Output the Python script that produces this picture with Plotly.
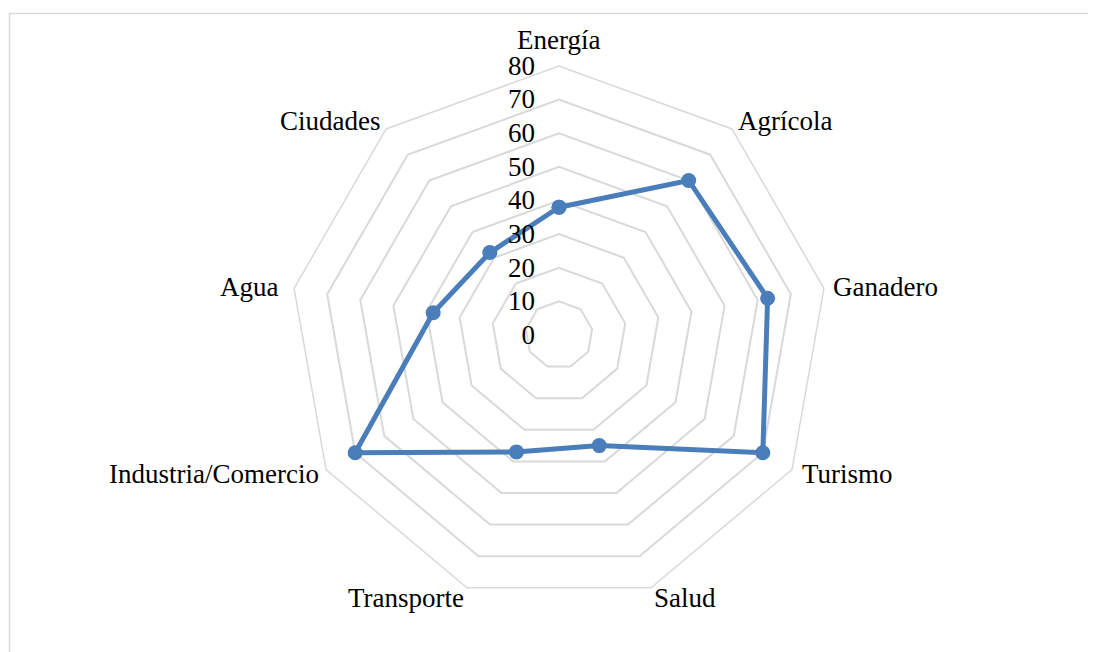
import plotly.graph_objects as go

categories = ["Energía", "Agrícola", "Ganadero", "Turismo", "Salud",
              "Transporte", "Industria/Comercio", "Agua", "Ciudades"]
values = [38, 60, 63, 70, 35, 37, 70, 38, 32]
radial_ticks = [0, 10, 20, 30, 40, 50, 60, 70, 80]

# category label placement (page px: centre x, baseline y)
label_pos = [(558.5, 49), (784.5, 130), (885.7, 296), (847, 483.3), (684.5, 606.7),
             (405.8, 606.7), (213.7, 483.3), (249, 295.7), (330, 130)]

W, H = 1096, 652
OFF = 8  # page body margin
cx, cy, R = 559 - OFF, 335 - OFF, 269
FS = 27

fig = go.Figure()
fig.add_trace(go.Scatterpolar(
    r=values + values[:1],
    theta=categories + categories[:1],
    mode="lines+markers",
    line=dict(color="#4a7ebb", width=5),
    marker=dict(color="#4a7ebb", size=15),
    showlegend=False,
    hoverinfo="skip",
))

annotations = []
for name, (px, base) in zip(categories, label_pos):
    annotations.append(dict(
        text=name, showarrow=False, xref="paper", yref="paper",
        x=(px - OFF) / W, y=1 - (base - 9 - OFF) / H,
        xanchor="center", yanchor="middle",
        font=dict(size=FS, color="black"),
    ))

fig.update_layout(
    width=W, height=H,
    margin=dict(l=0, r=0, t=0, b=0),
    paper_bgcolor="white",
    font=dict(family="Liberation Serif, Times New Roman, serif", size=FS, color="black"),
    polar=dict(
        domain=dict(x=[(cx - R) / W, (cx + R) / W], y=[1 - (cy + R) / H, 1 - (cy - R) / H]),
        bgcolor="white",
        gridshape="linear",
        radialaxis=dict(
            range=[0, 80],
            tickvals=radial_ticks,
            ticktext=[str(t) for t in radial_ticks],
            angle=90,
            tickangle=90,
            side="counterclockwise",
            showline=False,
            gridcolor="#d9d9d9",
            gridwidth=1.5,
            ticks="outside",
            ticklen=14,
            tickcolor="rgba(0,0,0,0)",
            tickfont=dict(size=FS, color="black"),
        ),
        angularaxis=dict(
            rotation=90,
            direction="clockwise",
            showgrid=False,
            showline=True,
            linecolor="#d9d9d9",
            linewidth=1.5,
            ticks="",
            showticklabels=False,
        ),
    ),
    annotations=annotations,
    shapes=[dict(type="rect", xref="paper", yref="paper",
                 x0=(9.5 - OFF) / W, x1=(1090.5 - OFF) / W, y0=-0.05, y1=1 - (13.5 - OFF) / H,
                 line=dict(color="#d9d9d9", width=1.5), fillcolor="rgba(0,0,0,0)")],
)

fig.write_html("out.html")
